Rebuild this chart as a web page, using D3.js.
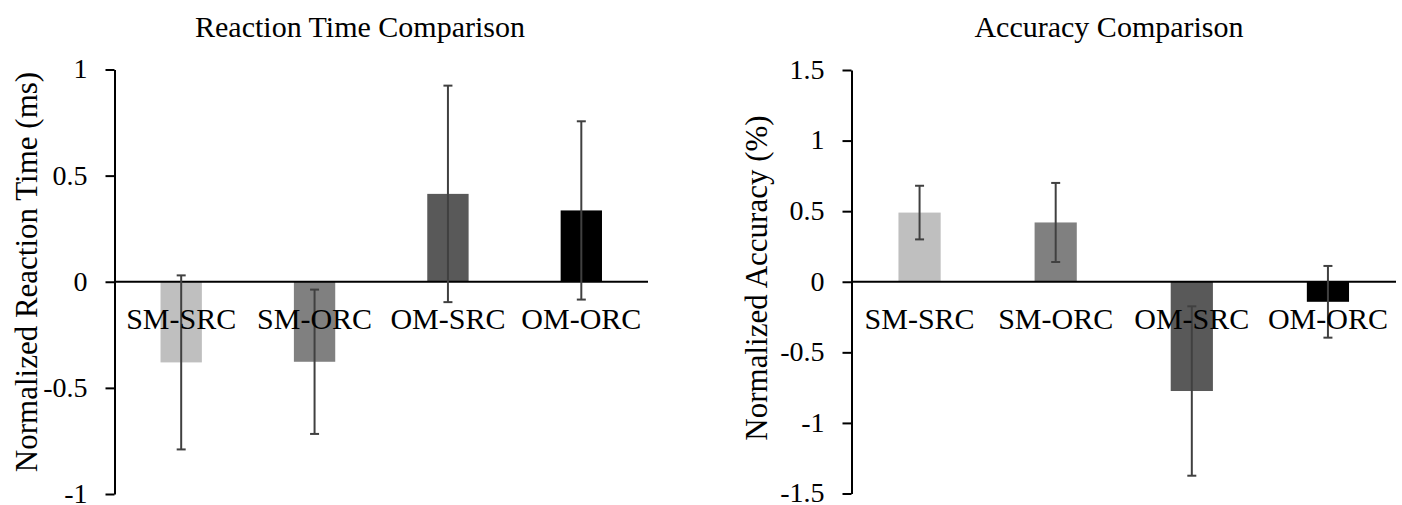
<!DOCTYPE html>
<html>
<head>
<meta charset="utf-8">
<script src="https://cdn.jsdelivr.net/npm/d3@7"></script>
<style>
  body { margin: 0; background: #fff; }
  svg text { font-family: "Liberation Serif", "Times New Roman", serif; fill: #000; }
</style>
</head>
<body>
<svg id="chart" width="1402" height="505"></svg>
<script>
// data
var categories = ["SM-SRC", "SM-ORC", "OM-SRC", "OM-ORC"];
var barColors = ["#bfbfbf", "#808080", "#595959", "#000000"];

var rtMeans = [-0.38, -0.377, 0.414, 0.336];
var rtErrors = [0.41, 0.34, 0.51, 0.42];
var rtTicks = [-1, -0.5, 0, 0.5, 1];

var accMeans = [0.49, 0.42, -0.774, -0.142];
var accErrors = [0.19, 0.28, 0.60, 0.254];
var accTicks = [-1.5, -1, -0.5, 0, 0.5, 1, 1.5];

var svg = d3.select("#chart");

function drawPanel(opts) {
    var g = svg.append("g");

    var x = d3.scaleBand()
        .domain(categories)
        .range([opts.left, opts.right])
        .paddingInner(0.69)
        .paddingOuter(0.345);

    var y = d3.scaleLinear()
        .domain(opts.domain)
        .range([opts.bottom, opts.top]);

    // bars
    g.selectAll("rect.bar")
        .data(opts.means)
        .enter().append("rect")
        .attr("class", "bar")
        .attr("x", function (d, i) { return x(categories[i]); })
        .attr("width", x.bandwidth())
        .attr("y", function (d) { return y(Math.max(0, d)); })
        .attr("height", function (d) { return Math.abs(y(d) - y(0)); })
        .attr("fill", function (d, i) { return barColors[i]; });

    // zero line
    g.append("line")
        .attr("x1", opts.left).attr("x2", opts.right)
        .attr("y1", y(0)).attr("y2", y(0))
        .attr("stroke", "#000").attr("stroke-width", 2);

    // error bars
    var eb = g.selectAll("g.err")
        .data(opts.means)
        .enter().append("g")
        .attr("class", "err")
        .attr("stroke", "#404040")
        .attr("stroke-width", 2);

    var cx = function (i) { return x(categories[i]) + x.bandwidth() / 2; };

    eb.append("line")
        .attr("x1", function (d, i) { return cx(i); })
        .attr("x2", function (d, i) { return cx(i); })
        .attr("y1", function (d, i) { return y(d + opts.errors[i]); })
        .attr("y2", function (d, i) { return y(d - opts.errors[i]); });
    eb.append("line")
        .attr("x1", function (d, i) { return cx(i) - 4.5; })
        .attr("x2", function (d, i) { return cx(i) + 4.5; })
        .attr("y1", function (d, i) { return y(d + opts.errors[i]); })
        .attr("y2", function (d, i) { return y(d + opts.errors[i]); });
    eb.append("line")
        .attr("x1", function (d, i) { return cx(i) - 4.5; })
        .attr("x2", function (d, i) { return cx(i) + 4.5; })
        .attr("y1", function (d, i) { return y(d - opts.errors[i]); })
        .attr("y2", function (d, i) { return y(d - opts.errors[i]); });

    // category labels sit just under the zero line
    g.selectAll("text.cat")
        .data(categories)
        .enter().append("text")
        .attr("class", "cat")
        .attr("x", function (d) { return x(d) + x.bandwidth() / 2; })
        .attr("y", y(0) + 47.5)
        .attr("text-anchor", "middle")
        .style("font-size", "30px")
        .text(function (d) { return d; });

    // y axis
    var yAxis = d3.axisLeft(y)
        .tickValues(opts.ticks)
        .tickFormat(function (d) { return String(d); })
        .tickSize(9)
        .tickSizeOuter(0)
        .tickPadding(18);

    var ag = g.append("g")
        .attr("transform", "translate(" + opts.left + ",0)")
        .call(yAxis);
    ag.select(".domain").attr("stroke", "#000").attr("stroke-width", 2);
    ag.selectAll(".tick line").attr("stroke", "#000").attr("stroke-width", 2);
    ag.selectAll(".tick text")
        .attr("fill", "#000")
        .attr("dy", "0.3em")
        .style("font-size", "28px")
        .style("font-family", "Liberation Serif, serif");

    // title
    g.append("text")
        .attr("x", opts.titleX)
        .attr("y", 36.5)
        .attr("text-anchor", "middle")
        .style("font-size", "30px")
        .text(opts.title);

    // y label
    g.append("text")
        .attr("transform", "translate(" + opts.labelX + "," + opts.labelY + ") rotate(-90)")
        .attr("text-anchor", "middle")
        .style("font-size", "31px")
        .text(opts.yLabel);
}

drawPanel({
    left: 114.5, right: 648, top: 69.5, bottom: 494,
    domain: [-1, 1], ticks: rtTicks,
    means: rtMeans, errors: rtErrors,
    title: "Reaction Time Comparison", titleX: 360,
    yLabel: "Normalized Reaction Time (ms)", labelX: 37, labelY: 272
});

drawPanel({
    left: 851.5, right: 1396, top: 70, bottom: 493.5,
    domain: [-1.5, 1.5], ticks: accTicks,
    means: accMeans, errors: accErrors,
    title: "Accuracy Comparison", titleX: 1109,
    yLabel: "Normalized Accuracy (%)", labelX: 767, labelY: 278
});
</script>
</body>
</html>
